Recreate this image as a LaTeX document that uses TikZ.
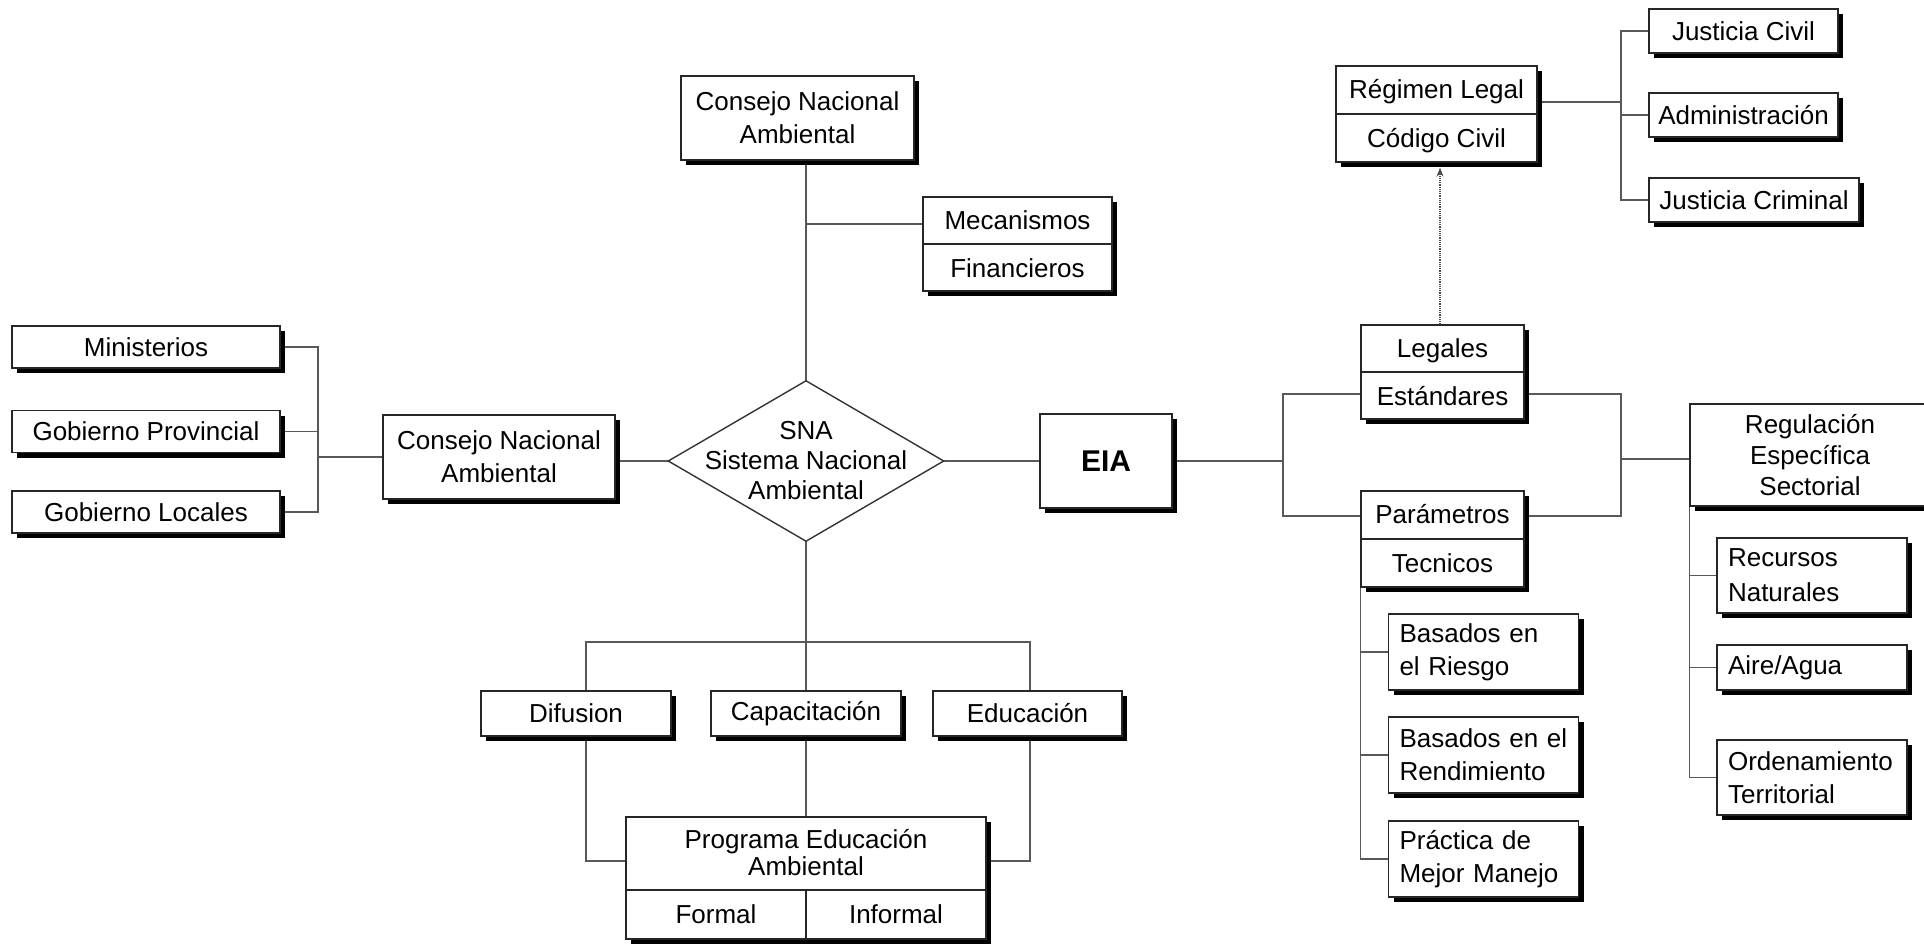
\documentclass[tikz,border=0pt]{standalone}
\usepackage{fontspec}
\setmainfont{Liberation Sans}
\usetikzlibrary{shadows,arrows.meta,calc}
\pgfdeclarelayer{bg}
\pgfsetlayers{bg,main}
\tikzset{
  box/.style={draw=black!85, line width=1.4pt, fill=white, inner sep=0pt, align=center,
    font=\fontsize{26}{33}\selectfont,
    drop shadow={shadow xshift=5pt, shadow yshift=-5pt, fill=black, opacity=1}},
  lbox/.style={box, align=left, inner xsep=11pt, text width=168pt},
  conn/.style={draw=black!65, line width=1.4pt},
  divl/.style={draw=black!85, line width=1.4pt},
  lbl/.style={font=\fontsize{26}{33}\selectfont, inner sep=0pt, text height=18.6pt, text depth=0pt},
}
\begin{document}
\begin{tikzpicture}[x=1pt,y=-1pt]
\useasboundingbox (0,0) rectangle (1924,944);

% ---------- left ----------
\node[box, minimum width=268pt, minimum height=42pt] (min)  at (146,347)   {Ministerios};
\node[box, minimum width=268pt, minimum height=42pt] (prov) at (146,431.5) {Gobierno Provincial};
\node[box, minimum width=268pt, minimum height=42pt] (loc)  at (146,512)   {Gobierno Locales};
\node[box, minimum width=232pt, minimum height=84pt] (cnl)  at (499,457)   {Consejo Nacional\\Ambiental};

% ---------- centre ----------
\node[box, minimum width=233pt, minimum height=84pt] (cnt) at (797.5,118) {Consejo Nacional\\Ambiental};
\node[box, minimum width=189pt, minimum height=94pt] (mec) at (1017.5,244) {};
\draw[divl] (mec.west) -- (mec.east);
\node[lbl] at ($(mec.north)!0.5!(mec.center)$) {Mecanismos};
\node[lbl] at ($(mec.south)!0.5!(mec.center)$) {Financieros};

\node[inner sep=0pt, minimum width=275pt, minimum height=160pt, align=center,
      font=\fontsize{26}{30}\selectfont] (sna) at (806,461) {SNA\\Sistema Nacional\\Ambiental};
\draw[draw=black!80, line width=1.4pt] (sna.west) -- (sna.north) -- (sna.east) -- (sna.south) -- cycle;

\node[box, minimum width=132pt, minimum height=94pt, font=\bfseries\fontsize{30}{36}\selectfont] (eia) at (1106,461) {EIA};

% ---------- bottom ----------
\node[box, minimum width=190pt, minimum height=45pt] (dif) at (576,713.5) {Difusion};
\node[box, minimum width=190pt, minimum height=45pt] (cap) at (806,713.5) {Capacitación};
\node[box, minimum width=189pt, minimum height=45pt] (edu) at (1027.5,713.5) {Educación};
\node[box, minimum width=360pt, minimum height=122pt] (prog) at (806,878) {};
\coordinate (pd) at (806,890);
\draw[divl] (prog.west |- pd) -- (prog.east |- pd);
\draw[divl] (prog.south) -- (pd);
\node[inner sep=0pt, align=center, font=\fontsize{26}{27}\selectfont] at (806,853) {Programa Educación\\Ambiental};
\node[lbl] at (716,914) {Formal};
\node[lbl] at (896,914) {Informal};

% ---------- right ----------
\node[box, minimum width=163pt, minimum height=94pt] (leg) at (1442.5,372) {};
\draw[divl] (leg.west) -- (leg.east);
\node[lbl] at ($(leg.north)!0.5!(leg.center)$) {Legales};
\node[lbl] at ($(leg.south)!0.5!(leg.center)$) {Estándares};

\node[box, minimum width=163pt, minimum height=96pt] (par) at (1442.5,539) {};
\draw[divl] (par.west) -- (par.east);
\node[lbl] at ($(par.north)!0.5!(par.center)$) {Parámetros};
\node[lbl] at ($(par.south)!0.5!(par.center)$) {Tecnicos};

\node[box, minimum width=201pt, minimum height=96pt] (reg) at (1436.5,114) {};
\draw[divl] (reg.west) -- (reg.east);
\node[lbl] at ($(reg.north)!0.5!(reg.center)$) {Régimen Legal};
\node[lbl] at ($(reg.south)!0.5!(reg.center)$) {Código Civil};

\node[box, minimum width=189pt, minimum height=44pt] (jc)  at (1743.5,31)  {Justicia Civil};
\node[box, minimum width=189pt, minimum height=44pt] (adm) at (1743.5,115) {Administración};
\node[box, minimum width=210pt, minimum height=44pt] (jcr) at (1754,200)   {Justicia Criminal};

\node[box, minimum width=240pt, minimum height=102pt, font=\fontsize{26}{31}\selectfont] (rs) at (1810,455) {Regulación\\Específica\\Sectorial};
\node[lbox, minimum height=75pt, font=\fontsize{26}{35}\selectfont] (rn) at (1812,575.5) {Recursos\\Naturales};
\node[lbox, minimum height=45pt] (aa) at (1812,667.5) {Aire/Agua};
\node[lbox, minimum height=75pt] (ot) at (1812,777.5) {Ordenamiento\\Territorial};

\node[lbox, minimum height=76pt] (br)  at (1483.5,652) {Basados en\\el Riesgo};
\node[lbox, minimum height=76pt] (bre) at (1483.5,755) {Basados en el\\Rendimiento};
\node[lbox, minimum height=76pt] (pm)  at (1483.5,859) {Práctica de\\Mejor Manejo};

% ---------- connectors ----------
\coordinate (jl) at (318,457);
\coordinate (jm) at (806,224);
\coordinate (jdl) at (586,642);
\coordinate (jdr) at (1030,642);
\coordinate (jpy) at (806,861);
\coordinate (jet) at (1283,394);
\coordinate (jeb) at (1283,516);
\coordinate (je) at (1283,461);
\coordinate (jr) at (1621,459);
\coordinate (jj) at (1621,102);
\coordinate (ja) at (1440,0);

\begin{pgfonlayer}{bg}
\draw[conn] (min.east) -| (jl) |- (loc.east);
\draw[conn] (prov.east) -- (prov.east -| jl);
\draw[conn] (jl) -- (cnl.west |- jl);
\draw[conn] (cnl.east |- sna) -- (sna.west);

\draw[conn] (sna.north) -- (sna.north |- cnt.south);
\draw[conn] (jm) -- (mec.west |- jm);
\draw[conn] (sna.east) -- (eia.west);

\draw[conn] (sna.south) -- (cap.north);
\draw[conn] (cap.south) -- (prog.north);
\draw[conn] (dif.north -| jdl) -- (jdl) -- (jdr) -- (edu.north -| jdr);
\draw[conn] (dif.south -| jdl) |- (prog.west |- jpy);
\draw[conn] (edu.south -| jdr) |- (prog.east |- jpy);

\draw[conn] (eia.east) -- (je);
\draw[conn] (leg.west |- jet) -- (jet) -- (jeb) -- (par.west |- jeb);
\draw[conn] (leg.east |- jet) -| (jr) |- (par.east |- jeb);
\draw[conn] (jr) -- (rs.west |- jr);

\draw[conn] (reg.east |- jj) -- (jj);
\draw[conn] (jc.west) -| (jj) |- (jcr.west);
\draw[conn] (adm.west) -- (adm.west -| jj);

\draw[conn] (rs.south west) |- (ot.west);
\draw[conn] (rn.west) -- (rn.west -| rs.south west);
\draw[conn] (aa.west) -- (aa.west -| rs.south west);

\draw[conn] (par.south west) |- (pm.west);
\draw[conn] (br.west) -- (br.west -| par.south west);
\draw[conn] (bre.west) -- (bre.west -| par.south west);
\end{pgfonlayer}

\draw[draw=black!70, line width=1.2pt, densely dotted, -{Stealth[length=9pt,width=7pt]}]
  (leg.north -| ja) -- ($(reg.south -| ja)+(0,5)$);

\end{tikzpicture}
\end{document}
